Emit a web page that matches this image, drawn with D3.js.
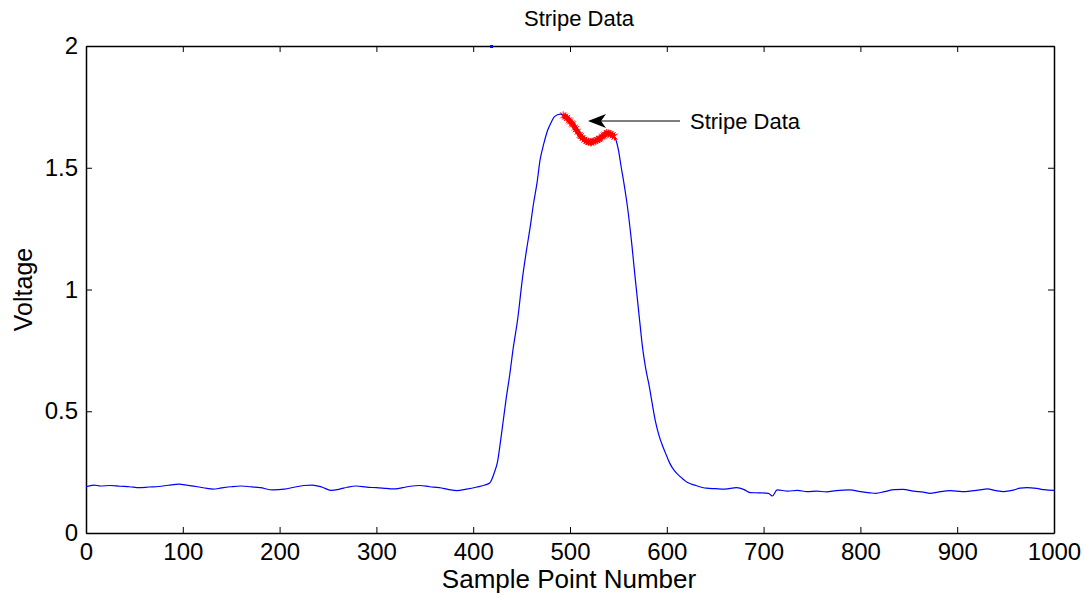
<!DOCTYPE html>
<html>
<head>
<meta charset="utf-8">
<script src="https://cdn.jsdelivr.net/npm/d3@7"></script>
<style>
  body { margin: 0; background: #fff; }
  text { font-family: Arial, "Liberation Sans", sans-serif; fill: #000; }
</style>
</head>
<body>
<script>
const width = 1086
const height = 596

// sample numbers and voltages
const sampleNum = [0, 8, 15, 25, 35, 45, 55, 65, 75, 85, 96, 105, 115, 125, 131, 140, 150, 160, 170, 180,
  193, 205, 215, 225, 234, 244, 253, 262, 270, 279, 290, 300, 310, 317, 327, 335, 345, 355, 365, 375,
  383, 393, 404, 412, 417, 422, 425, 428, 431, 434, 438, 441, 446, 451, 455, 459, 462, 466, 469, 473,
  477, 481, 484, 490, 493, 500, 505, 510, 515, 519, 524, 528, 533, 538, 542, 546, 550, 553, 556, 559,
  564, 567, 572, 575, 578, 582, 585, 588, 592, 596, 600, 603, 608, 614, 621, 630, 641, 650, 660, 672,
  680, 686, 695, 705, 709, 714, 725, 735, 745, 755, 765, 775, 789, 800, 810, 816, 825, 835, 844, 855,
  865, 872, 880, 893, 905, 915, 925, 931, 940, 948, 958, 965, 972, 982, 990, 1000]
const voltage = [0.19, 0.197, 0.193, 0.195, 0.192, 0.19, 0.186, 0.189, 0.191, 0.196, 0.201, 0.196, 0.19, 0.183, 0.18, 0.185, 0.19, 0.193, 0.19, 0.186,
  0.177, 0.18, 0.188, 0.195, 0.197, 0.188, 0.175, 0.18, 0.188, 0.193, 0.188, 0.186, 0.183, 0.181, 0.186, 0.192, 0.195, 0.19, 0.186, 0.178,
  0.174, 0.18, 0.189, 0.197, 0.205, 0.25, 0.29, 0.37, 0.46, 0.55, 0.657, 0.75, 0.88, 1.05, 1.16, 1.26, 1.345, 1.44, 1.53, 1.6,
  1.655, 1.69, 1.71, 1.72, 1.715, 1.69, 1.665, 1.635, 1.615, 1.607, 1.608, 1.614, 1.628, 1.643, 1.638, 1.628, 1.573, 1.5, 1.43, 1.35,
  1.18, 1.06, 0.87, 0.76, 0.68, 0.6, 0.53, 0.464, 0.4, 0.354, 0.315, 0.287, 0.255, 0.231, 0.208, 0.195, 0.184, 0.182, 0.18, 0.186,
  0.178, 0.166, 0.165, 0.163, 0.152, 0.177, 0.172, 0.175, 0.17, 0.172, 0.169, 0.174, 0.177, 0.17, 0.165, 0.163, 0.17, 0.178, 0.179, 0.172,
  0.168, 0.163, 0.168, 0.174, 0.17, 0.173, 0.178, 0.181, 0.174, 0.17, 0.176, 0.184, 0.186, 0.183, 0.178, 0.175]

// the highlighted stripe section
const stripeNum = [493, 495, 497, 499, 500, 502, 503, 505, 506, 508, 510, 511, 513, 515, 517, 519, 521, 522, 524, 526, 528, 530, 531, 533, 535, 536, 538, 540, 542, 544, 546]
const stripeVolt = [1.715, 1.71, 1.705, 1.695, 1.69, 1.682, 1.678, 1.665, 1.658, 1.648, 1.635, 1.63, 1.622, 1.615, 1.61, 1.607, 1.605, 1.604, 1.608, 1.61, 1.614, 1.618, 1.62, 1.628, 1.632, 1.636, 1.643, 1.641, 1.638, 1.633, 1.628]

// stray point at the top of the axes
const strayNum = [419]
const strayVolt = [2]

const xTicks = [0, 100, 200, 300, 400, 500, 600, 700, 800, 900, 1000]
const yTicks = [0, 0.5, 1, 1.5, 2]

const margin = {left: 86, right: 32, top: 46, bottom: 63}

const x = d3.scaleLinear().domain([0, 1000]).range([margin.left, width - margin.right])
const y = d3.scaleLinear().domain([0, 2]).range([height - margin.bottom, margin.top])

const svg = d3.select('body').append('svg')
    .attr('width', width)
    .attr('height', height)

// axes, ticks pointing inward on all four sides
const tickLen = 6
svg.append('g')
    .attr('transform', `translate(0,${y(0)})`)
    .call(d3.axisBottom(x).tickValues(xTicks).tickSizeInner(-tickLen).tickSizeOuter(0).tickPadding(10).tickFormat(d3.format('d')))
svg.append('g')
    .attr('transform', `translate(0,${y(2)})`)
    .call(d3.axisTop(x).tickValues(xTicks).tickSizeInner(-tickLen).tickSizeOuter(0).tickFormat(''))
svg.append('g')
    .attr('transform', `translate(${x(0)},0)`)
    .call(d3.axisLeft(y).tickValues(yTicks).tickSizeInner(-tickLen).tickSizeOuter(0).tickPadding(8).tickFormat(d => d))
svg.append('g')
    .attr('transform', `translate(${x(1000)},0)`)
    .call(d3.axisRight(y).tickValues(yTicks).tickSizeInner(-tickLen).tickSizeOuter(0).tickFormat(''))

svg.selectAll('.domain').attr('stroke', '#000').attr('stroke-width', 1.5)
svg.selectAll('.tick line').attr('stroke', '#000')
svg.selectAll('.tick text')
    .style('font-family', 'Arial, "Liberation Sans", sans-serif')
    .style('font-size', '24px')
    .attr('fill', '#000')

// blue signal
const line = d3.line().x(d => x(d[0])).y(d => y(d[1])).curve(d3.curveMonotoneX)
svg.append('path')
    .datum(d3.zip(sampleNum, voltage))
    .attr('fill', 'none')
    .attr('stroke', '#0000ff')
    .attr('stroke-width', 1.2)
    .attr('d', line)

// red stripe data
svg.append('path')
    .datum(d3.zip(stripeNum, stripeVolt))
    .attr('fill', 'none')
    .attr('stroke', '#ff0000')
    .attr('stroke-width', 5)
    .attr('stroke-linejoin', 'round')
    .attr('d', line)

svg.selectAll('.stripe-mark')
    .data(d3.zip(stripeNum, stripeVolt))
    .enter().append('path')
    .attr('class', 'stripe-mark')
    .attr('transform', d => `translate(${x(d[0])},${y(d[1])})`)
    .attr('d', 'M-3,-3L3,3M-3,3L3,-3M0,-4L0,4')
    .attr('stroke', '#ff0000')
    .attr('stroke-width', 1)

svg.selectAll('.stray')
    .data(d3.zip(strayNum, strayVolt))
    .enter().append('rect')
    .attr('x', d => x(d[0]) - 1.5)
    .attr('y', d => y(d[1]) - 1)
    .attr('width', 3)
    .attr('height', 3)
    .attr('fill', '#0000ff')

// annotation arrow
const arrowY = 121
svg.append('line')
    .attr('x1', 680).attr('y1', arrowY)
    .attr('x2', 600).attr('y2', arrowY)
    .attr('stroke', '#000').attr('stroke-width', 1.2)
svg.append('path')
    .attr('d', `M588,${arrowY}L606,${arrowY - 7}L601,${arrowY}L606,${arrowY + 7}Z`)
    .attr('fill', '#000')
svg.append('text')
    .attr('x', 690).attr('y', arrowY + 8)
    .style('font-size', '22px')
    .text('Stripe Data')

// title and labels
svg.append('text')
    .attr('x', 579).attr('y', 26)
    .attr('text-anchor', 'middle')
    .style('font-size', '22px')
    .text('Stripe Data')
svg.append('text')
    .attr('x', 569).attr('y', 588)
    .attr('text-anchor', 'middle')
    .style('font-size', '26px')
    .text('Sample Point Number')
svg.append('text')
    .attr('transform', `translate(32,${(y(0) + y(2)) / 2}) rotate(-90)`)
    .attr('text-anchor', 'middle')
    .style('font-size', '25px')
    .text('Voltage')
</script>
</body>
</html>
